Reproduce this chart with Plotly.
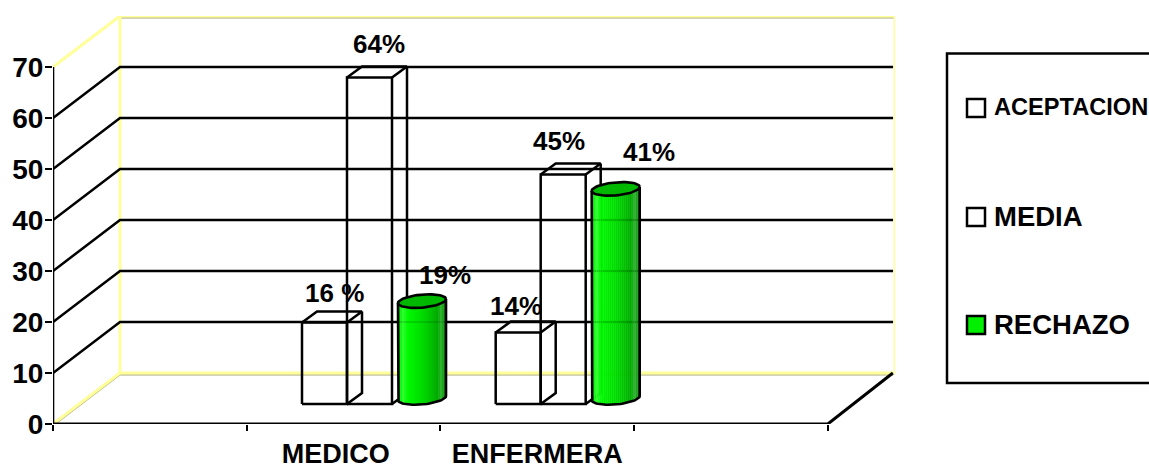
import numpy as np
import plotly.graph_objects as go

# ---------- data ----------
categories = ["MEDICO", "ENFERMERA"]
series_names = ["ACEPTACION", "MEDIA", "RECHAZO"]
aceptacion = [16, 14]
media = [64, 45]
rechazo = [19, 41]
labels_aceptacion = ["16 %", "14%"]
labels_media = ["64%", "45%"]
labels_rechazo = ["19%", "41%"]
y_ticks = [0, 10, 20, 30, 40, 50, 60, 70]

# ---------- geometry (pixels) ----------
W, H = 1149, 470
L, R, T, B = 53, 895, 16, 424
PX_CAT = 193.7            # pixels per category
PX_VAL = 5.1              # pixels per value unit
DX = 67 / PX_CAT          # wall depth in x units
DY = 51 / PX_VAL          # wall depth in y units
BASE = 20 / PX_VAL        # bar floor offset
BAR_W = 45 / PX_CAT
BAR_DX = 15 / PX_CAT
BAR_DY = 11 / PX_VAL
BAR_START = 249 / PX_CAT - 1
CYL_X = 369 / PX_CAT - 1
CYL_BASE = 26 / PX_VAL
CYL_RX = 24 / PX_CAT
CYL_RY = 6.5 / PX_VAL
CYL_TILT = 2 / PX_VAL
XMAX = (R - L) / PX_CAT
YMAX = (B - T) / PX_VAL


def px(x):
    return (x - L) / (R - L)


def py(y):
    return (B - y) / (B - T)


fig = go.Figure()


def line(xs, ys, color="black", width=2):
    fig.add_trace(go.Scatter(x=xs, y=ys, mode="lines", cliponaxis=False, hoverinfo="skip",
                             showlegend=False, line=dict(color=color, width=width)))


def poly(xs, ys, fill, color=None, width=0):
    fig.add_trace(go.Scatter(x=xs, y=ys, mode="lines", fill="toself", fillcolor=fill, cliponaxis=False,
                             hoverinfo="skip", showlegend=False,
                             line=dict(color=color or fill, width=width)))


# walls
YEL = "#FFFF99"
sh = 1.8 / PX_VAL
line([0, DX, XMAX - 0.01, None, DX, XMAX], [-sh, DY - sh, DY - sh, None, YMAX - sh, YMAX - sh], "#A8A878", 1.2)
line([0, DX, None, DX, DX, None, XMAX, XMAX, None, 0, DX, XMAX, None, DX, XMAX],
     [0, DY, None, DY, YMAX, None, DY, YMAX, None, 70, YMAX, YMAX, None, DY, DY], YEL, 3)

# grid
grid_v = [v for v in y_ticks if 0 < v < 70]
gx, gy = [], []
for v in grid_v:
    gx += [0, DX, XMAX - 0.01, None]
    gy += [v, v + DY, v + DY, None]
line(gx, gy, "black", 2.5)

# axes and floor edge
line([0, 0], [0, 70], "black", 2.6)
line([0, 4, 4 + DX - 0.01], [0, 0, DY], "black", 3)


def box(x0, v):
    b, t = BASE, BASE + v
    x1 = x0 + BAR_W
    line([x0, x1, x1, x0, x0], [b, b, t, t, b], "black", 2.5)
    line([x0, x0 + BAR_DX, x1 + BAR_DX, x1, None, x1 + BAR_DX, x1 + BAR_DX, x1],
         [t, t + BAR_DY, t + BAR_DY, t, None, t + BAR_DY, b + BAR_DY, b], "black", 2.5)


for i in range(len(categories)):
    x0 = i + 1 + BAR_START
    box(x0, aceptacion[i])
    box(x0 + BAR_W, media[i])

stops = [(0, (0, 200, 0)), (0.04, (0, 245, 0)), (0.1, (50, 255, 50)), (0.2, (0, 250, 0)),
         (0.55, (0, 215, 0)), (0.82, (0, 170, 0)), (0.9, (50, 180, 50)), (1, (0, 135, 0))]


def grad(f):
    fs = [s[0] for s in stops]
    return "rgb(%d,%d,%d)" % tuple(int(np.interp(f, fs, [s[1][k] for s in stops])) for k in range(3))


def cylinder(cx, v):
    b0, t0 = CYL_BASE, CYL_BASE + v
    n = 24
    edges = np.linspace(-1, 1, n + 1)
    for a, c in zip(edges[:-1], edges[1:]):
        tt = np.linspace(a, c, 4)
        xs = cx + CYL_RX * tt
        low = b0 - CYL_RY * np.sqrt(1 - tt ** 2) + CYL_TILT * tt
        high = t0 + CYL_TILT * tt
        poly(list(xs) + list(xs[::-1]), list(low) + list(high[::-1]), grad((a + c + 2) / 4), grad((a + c + 2) / 4), 0.8)
    th = np.linspace(0, 2 * np.pi, 61)
    ex = cx + CYL_RX * np.cos(th)
    ey = t0 + CYL_RY * np.sin(th) + CYL_TILT * np.cos(th)
    poly(list(ex), list(ey), "#00B800", "black", 2.6)
    tb = np.linspace(np.pi, 2 * np.pi, 31)
    bx = cx + CYL_RX * np.cos(tb)
    by = b0 + CYL_RY * np.sin(tb) + CYL_TILT * np.cos(tb)
    line([cx - CYL_RX] + list(bx) + [cx + CYL_RX], [t0 - CYL_TILT] + list(by) + [t0 + CYL_TILT], "black", 2.6)


for i in range(len(categories)):
    cylinder(i + 1 + CYL_X, rechazo[i])

# faint grid showing through the cylinders
line(gx, gy, "rgba(0,0,0,0.12)", 2)

# data labels
LABEL_FONT = dict(family="Liberation Sans", size=26, color="black")
annotations = []


def dlabel(x, v, text, dx, dy):
    annotations.append(dict(x=x, y=v, xref="x", yref="y", text="<b>%s</b>" % text, showarrow=False,
                            xshift=dx, yshift=dy, font=LABEL_FONT, xanchor="center", yanchor="middle"))


nudge = [[(10, 29), (9, 34), (23, 26)], [(-2, 27), (-4, 34), (33, 37)]]
for i in range(len(categories)):
    x0 = i + 1 + BAR_START
    dlabel(x0 + BAR_W / 2, BASE + aceptacion[i], labels_aceptacion[i], *nudge[i][0])
    dlabel(x0 + BAR_W * 1.5, BASE + media[i], labels_media[i], *nudge[i][1])
    dlabel(i + 1 + CYL_X, CYL_BASE + rechazo[i], labels_rechazo[i], *nudge[i][2])

# legend
shapes = [dict(type="rect", xref="paper", yref="paper", x0=px(947), x1=px(1175), y0=py(53.5), y1=py(383),
               line=dict(color="black", width=2.5), fillcolor="white", layer="below")]
legend_fill = ["white", "white", "#00F000"]
legend_y = [108, 217, 325]
legend_size = [23.6, 27.5, 27.5]
for name, fill, yy, size in zip(series_names, legend_fill, legend_y, legend_size):
    shapes.append(dict(type="rect", xref="paper", yref="paper", x0=px(967), x1=px(985), y0=py(yy + 9), y1=py(yy - 9),
                       line=dict(color="black", width=2.5), fillcolor=fill))
    annotations.append(dict(x=px(994), y=py(yy - 1), xref="paper", yref="paper", text="<b>%s</b>" % name, showarrow=False,
                            xanchor="left", yanchor="middle", xshift=-2,
                            font=dict(family="Liberation Sans", size=size, color="black")))

fig.update_layout(
    width=W, height=H, autosize=False,
    margin=dict(l=L, r=W - R, t=T, b=H - B, pad=0),
    paper_bgcolor="white", plot_bgcolor="rgba(0,0,0,0)", showlegend=False,
    shapes=shapes, annotations=annotations,
    xaxis=dict(range=[0, XMAX], showgrid=False, zeroline=False, showline=False, automargin=False,
               tickmode="array", tickvals=[1.46, 2.5], ticktext=["<b>%s</b>" % c for c in categories],
               ticks="", ticklabelstandoff=11,
               tickfont=dict(family="Liberation Sans", size=27, color="black"),
               minor=dict(tickmode="array", tickvals=[0, 1, 2, 3, 4], ticks="outside", ticklen=6,
                          tickwidth=2, tickcolor="black", showgrid=False)),
    yaxis=dict(range=[0, YMAX], showgrid=False, zeroline=False, showline=False, automargin=False,
               tickmode="array", tickvals=y_ticks, ticktext=["<b>%d</b>" % v for v in y_ticks],
               ticks="outside", ticklen=7, tickwidth=2, tickcolor="black", ticklabelstandoff=-4,
               tickfont=dict(family="Liberation Sans", size=28, color="black")),
)

fig.write_html("out.html", config=dict(displayModeBar=False),
               post_script="document.body.style.margin='0';document.documentElement.style.overflow='hidden';")
